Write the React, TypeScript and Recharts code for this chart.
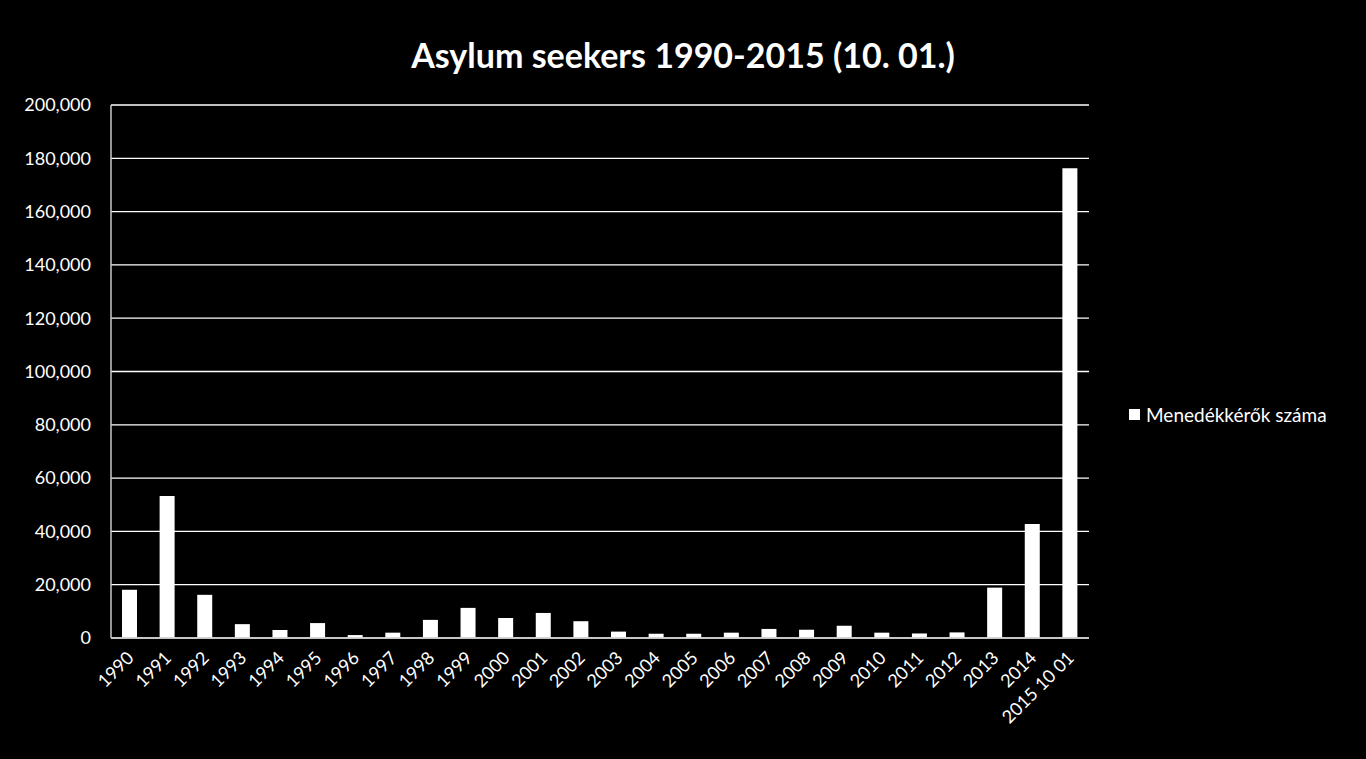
import React from "react";
import { BarChart, Bar, XAxis, YAxis, CartesianGrid } from "recharts";

const years = [
  "1990", "1991", "1992", "1993", "1994", "1995", "1996", "1997", "1998", "1999",
  "2000", "2001", "2002", "2003", "2004", "2005", "2006", "2007", "2008", "2009",
  "2010", "2011", "2012", "2013", "2014", "2015 10 01",
];
const seekers = [
  18100, 53300, 16200, 5200, 3000, 5600, 1100, 2000, 6800, 11300,
  7500, 9400, 6300, 2400, 1600, 1600, 2000, 3400, 3100, 4600,
  2000, 1700, 2100, 18900, 42800, 176300,
];
const yTicks = [0, 20000, 40000, 60000, 80000, 100000, 120000, 140000, 160000, 180000, 200000];

const seriesName = "Menedékkérők száma";
const title = "Asylum seekers 1990-2015 (10. 01.)";

const data = years.map((y, i) => ({ year: y, value: seekers[i] }));

const FONT = "Lato, 'Open Sans', sans-serif";

function XTick({ x, y, payload }: any) {
  return (
    <text
      x={x + 5}
      y={y + 13}
      textAnchor="end"
      fill="#fff"
      fontSize={18}
      fontFamily={FONT}
      transform={`rotate(-45, ${x + 5}, ${y + 13})`}
    >
      {payload.value}
    </text>
  );
}

export default function App() {
  return (
    <div style={{ position: "fixed", left: 0, top: 0, width: 1366, height: 759, background: "#000" }}>
      <div
        style={{
          position: "absolute",
          left: 0,
          width: 1366,
          top: 34,
          textAlign: "center",
          color: "#fff",
          fontFamily: FONT,
          fontWeight: 700,
          fontSize: 34,
        }}
      >
        {title}
      </div>
      <BarChart
        width={1366}
        height={759}
        data={data}
        margin={{ top: 105, right: 277, left: 0, bottom: 0 }}
        barSize={15}
      >
        <CartesianGrid vertical={false} stroke="#fff" strokeWidth={1.3} />
        <XAxis
          dataKey="year"
          interval={0}
          height={121}
          tickLine={false}
          stroke="#c8c8c8"
          strokeWidth={1.5}
          tick={<XTick />}
        />
        <YAxis
          width={111}
          domain={[0, 200000]}
          ticks={yTicks}
          tickLine={false}
          tickSize={0}
          tickMargin={20}
          stroke="#c8c8c8"
          strokeWidth={1.5}
          tick={{ fill: "#fff", fontSize: 18, fontFamily: FONT }}
          tickFormatter={(v: number) => v.toLocaleString("en-US")}
        />
        <Bar dataKey="value" name={seriesName} fill="#fff" isAnimationActive={false} />
      </BarChart>
      <div
        style={{
          position: "absolute",
          left: 1129,
          top: 403,
          display: "flex",
          alignItems: "center",
          color: "#fff",
          fontFamily: FONT,
          fontSize: 19,
        }}
      >
        <span style={{ width: 11, height: 11, background: "#fff", display: "inline-block", marginRight: 6 }} />
        {seriesName}
      </div>
    </div>
  );
}
